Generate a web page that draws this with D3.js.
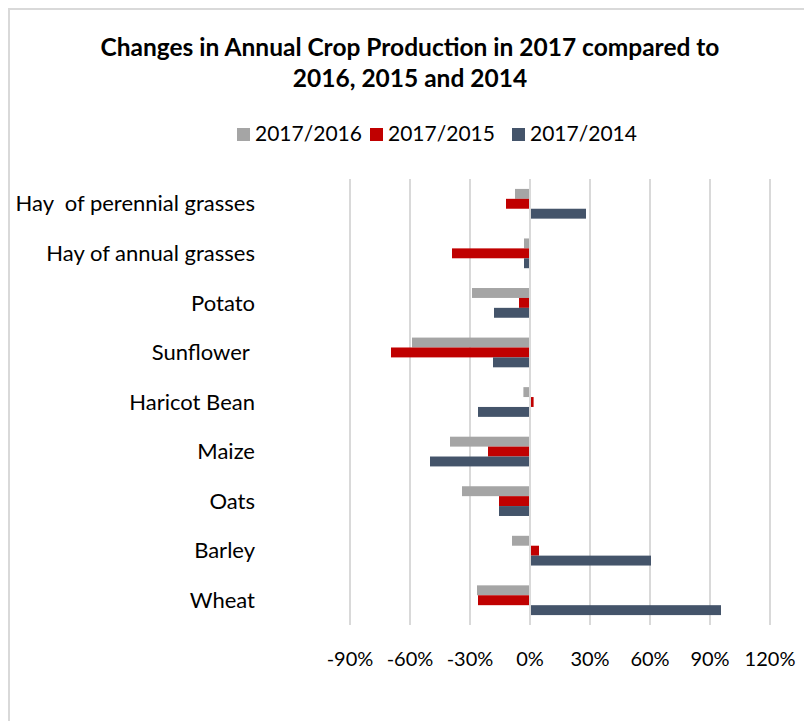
<!DOCTYPE html>
<html><head><meta charset="utf-8">
<script src="https://cdn.jsdelivr.net/npm/d3@7"></script>
<style>body{margin:0;background:#fff}svg{display:block}text{font-family:Lato,"Open Sans",sans-serif}</style>
</head><body>
<script>
const categories = ["Hay  of perennial grasses","Hay of annual grasses","Potato","Sunflower ","Haricot Bean","Maize","Oats","Barley","Wheat"];
const seriesNames = ["2017/2016","2017/2015","2017/2014"];
const s2016 = [-7.5,-3,-29,-59,-3.3,-40,-34,-9,-26.5];
const s2015 = [-12,-39,-5.5,-69.5,1.3,-21,-15.5,4,-26];
const s2014 = [27.5,-3,-18,-18.5,-26,-50,-15.5,60,95];
const tickValues = [-90,-60,-30,0,30,60,90,120];
const colors = ["#a5a5a5","#c00000","#44546a"];
const seriesValues = [s2016,s2015,s2014];

const W=804,H=721;
const svg=d3.select("body").append("svg").attr("width",W).attr("height",H);
svg.append("rect").attr("x",9).attr("y",9).attr("width",W).attr("height",H).attr("fill","#fff").attr("stroke","#d9d9d9").attr("stroke-width",2);

const x=d3.scaleLinear().domain([-90,120]).range([350,770]);
const y=d3.scaleBand().domain(categories).range([179,625]).paddingInner(0.4).paddingOuter(0.2);
const ys=d3.scaleBand().domain(seriesNames).range([0,y.bandwidth()]);

// gridlines
svg.append("g").selectAll("line").data(tickValues).join("line")
  .attr("x1",d=>x(d)).attr("x2",d=>x(d)).attr("y1",179).attr("y2",625)
  .attr("stroke","#d9d9d9").attr("stroke-width",2);

// bars
const rows=categories.map((c,i)=>seriesNames.map((s,j)=>({c,s,v:seriesValues[j][i],col:colors[j]}))).flat();
svg.append("g").selectAll("rect").data(rows).join("rect")
  .attr("x",d=>d.v<0?x(d.v):x(0)+1)
  .attr("width",d=>Math.abs(x(d.v)-x(0)) - (d.v<0?1:0))
  .attr("y",d=>y(d.c)+ys(d.s)).attr("height",ys.bandwidth())
  .attr("fill",d=>d.col);

// category labels
svg.append("g").selectAll("text").data(categories).join("text")
  .attr("x",255).attr("y",d=>y(d)+y.bandwidth()/2).attr("dy","0.35em")
  .attr("text-anchor","end").attr("font-size",22).attr("fill","#000")
  .style("white-space","pre").text(d=>d);

// x tick labels
svg.append("g").selectAll("text").data(tickValues).join("text")
  .attr("x",d=>x(d)).attr("y",666).attr("text-anchor","middle")
  .attr("font-size",20).attr("fill","#000").text(d=>d+"%");

// title
const title=svg.append("text").attr("text-anchor","middle").attr("font-size",24.5).attr("font-weight","bold").attr("fill","#000");
title.append("tspan").attr("x",410).attr("y",56).text("Changes in Annual Crop Production in 2017 compared to");
title.append("tspan").attr("x",410).attr("y",87).text("2016, 2015 and 2014");

// legend
const legendX=[237,370,512];
const lg=svg.append("g").selectAll("g").data(seriesNames).join("g")
  .attr("transform",(d,i)=>`translate(${legendX[i]},0)`);
lg.append("rect").attr("x",0).attr("y",128).attr("width",13).attr("height",13).attr("fill",(d,i)=>colors[i]);
lg.append("text").attr("x",18).attr("y",141).attr("font-size",21).attr("fill","#000").text(d=>d);
</script>
</body></html>
